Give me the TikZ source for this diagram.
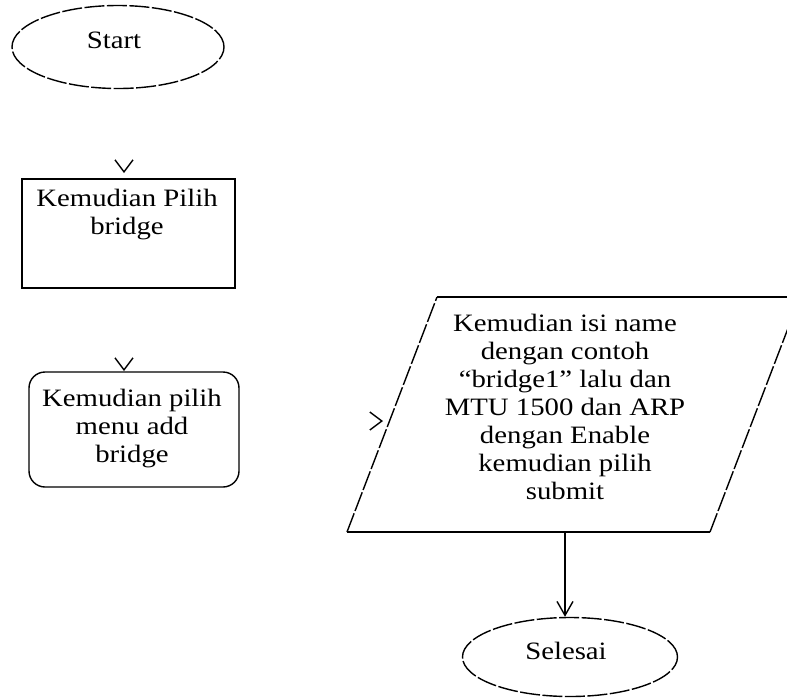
\documentclass[tikz,border=0pt]{standalone}
\usepackage{fontspec}
\setmainfont{Liberation Serif}[FakeStretch=1.15]
\usetikzlibrary{shapes.geometric,arrows.meta}
\tikzset{
  lbl/.style={font=\fontsize{25}{28}\selectfont, align=center, inner sep=0pt},
  dashline/.style={dash pattern=on 20pt off 2.5pt},
  oval/.style={ellipse, draw, dashline, line width=1.4pt, inner sep=0pt},
  boxline/.style={draw, line width=1.4pt},
  tipper/.style={draw=white, line width=1pt, -{Straight Barb[black, length=12pt, width=18pt, line width=1.4pt]}},
  flow/.style={draw, line width=1.4pt, -{Straight Barb[length=14pt, width=16pt, line width=1.4pt]}}
}
\begin{document}
\begin{tikzpicture}[x=1pt, y=-1pt]
\useasboundingbox (0,0) rectangle (787,697);
% Start
\node[oval, minimum width=212pt, minimum height=83pt] (start) at (118,47) {};
\node[lbl] (startt) at (114,40) {Start};
% Box 1
\node[boxline, minimum width=213pt, minimum height=109pt, inner sep=0pt] (box1) at (128.5,233.5) {};
\node[lbl] (box1t) at (127,215) {Kemudian Pilih\\bridge};
% Box 2 (rounded)
\node[boxline, rounded corners=16pt, minimum width=210pt, minimum height=115pt, inner sep=0pt] (box2) at (134,429.5) {};
\node[lbl] (box2t) at (132,429) {Kemudian pilih\\menu add\\bridge};
% Parallelogram
\coordinate (pA) at (347,532);
\coordinate (pB) at (710,532);
\coordinate (pC) at (800,297);
\coordinate (pD) at (437,297);
\draw[boxline] (pA) -- (pB);
\draw[boxline] (pD) -- (pC);
\draw[boxline, dashline] (pA) -- (pD);
\draw[boxline, dashline] (pB) -- (pC);
\node[lbl] (ptext) at (565,407) {Kemudian isi name\\dengan contoh\\“bridge1” lalu dan\\MTU 1500 dan ARP\\dengan Enable\\kemudian pilih\\submit};
% Selesai
\node[oval, minimum width=215pt, minimum height=79pt] (end) at (570,657) {};
\node[lbl] (endt) at (566,651) {Selesai};
% Connector heads
\coordinate (s1) at (124,157);
\coordinate (t1) at (124,173);
\coordinate (s2) at (124,355);
\coordinate (t2) at (124,371);
\coordinate (s3) at (367,421);
\coordinate (t3) at (383,421);
\coordinate (pbot) at (565,532);
\draw[tipper] (s1) -- (t1);
\draw[tipper] (s2) -- (t2);
\draw[tipper] (s3) -- (t3);
\draw[flow] (pbot) -- (pbot |- end.north);
\end{tikzpicture}
\end{document}
